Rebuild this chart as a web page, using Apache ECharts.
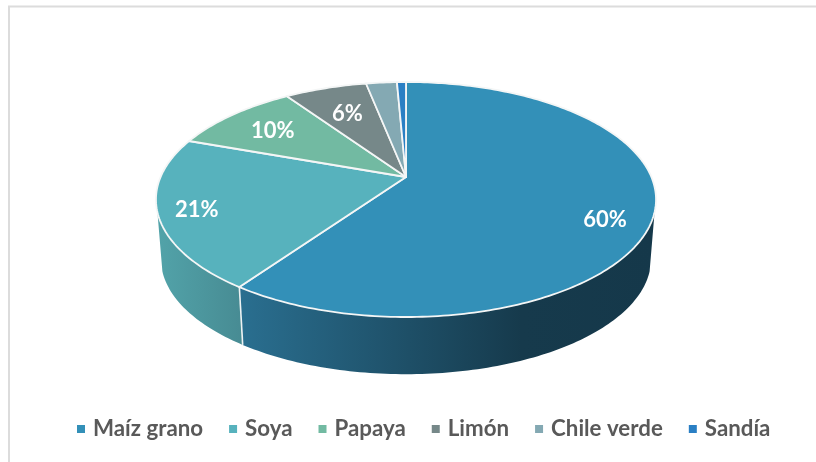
<!DOCTYPE html>
<html><head><meta charset="utf-8">
<style>html,body{margin:0;padding:0;background:#fff}#c{width:816px;height:462px}</style>
<script src="https://cdn.jsdelivr.net/npm/echarts@6/dist/echarts.min.js"></script>
</head><body><div id="c"></div>
<script>
const categories = ['Maíz grano','Soya','Papaya','Limón','Chile verde','Sandía'];
const shares = [59.7,20.8,10.0,6.4,2.4,0.7];
const shareLabels = ['60%','21%','10%','6%','',''];
const topColors = ['#3390b8','#57b2bd','#72baa2','#768889','#84a9b3','#2a7fc4'];
const sideStops = [
  [[0,'#2a6f90'],[0.68,'#163a4c'],[1,'#15384a']],
  [[0,'#52a3a9'],[1,'#478b93']],
  [[0,'#5a9682'],[1,'#5a9682']],
  [[0,'#5e6d6e'],[1,'#5e6d6e']],
  [[0,'#6a8790'],[1,'#6a8790']],
  [[0,'#22669d'],[1,'#22669d']]
];
const labelAngle = [114,252.5,308,337.5,0,0];
const labelRadius = [0.83,0.85,0.75,0.70,0,0];

const CX=406, CY=177, A=245.4, B=113.2, K=0.1915, DEPTH=60, BOTTOM_SCALE=0.98;
function project(r,deg,lower){
  const t=deg*Math.PI/180, u=r*Math.sin(t), v=r*Math.cos(t), d=1+K*v, s=lower?BOTTOM_SCALE:1;
  return [CX+s*A*u/d, CY+(lower?DEPTH:0)-s*B*v/d];
}
const total=shares.reduce((a,b)=>a+b,0);
const starts=[]; shares.reduce((acc,v,i)=>{starts[i]=acc;return acc+v/total*360;},0);

function arc(from,to,lower){
  const n=Math.max(2,Math.ceil(Math.abs(to-from))), pts=[];
  for(let j=0;j<=n;j++) pts.push(project(1,from+(to-from)*j/n,lower));
  return pts;
}
function renderSlice(i){
  return function(params,api){
    const from=starts[i], to=from+api.value(0)/total*360, children=[];
    const sFrom=Math.max(from,107), sTo=Math.min(to,253);
    if(sTo>sFrom){
      const stops=sideStops[i].map(s=>({offset:s[0],color:s[1]}));
      children.push({type:'polygon',z2:1,shape:{points:arc(sFrom,sTo,false).concat(arc(sTo,sFrom,true))},
        style:{fill:new echarts.graphic.LinearGradient(0,0,1,0,stops)}});
      if(to<=253){
        const a=project(1,to), b=project(1,to,true);
        children.push({type:'line',z2:2,shape:{x1:a[0],y1:a[1],x2:b[0],y2:b[1]},style:{stroke:'#eef2f3',lineWidth:1.6}});
      }
    }
    children.push({type:'polygon',z2:3,shape:{points:[project(0,0)].concat(arc(from,to,false))},
      style:{fill:topColors[i],stroke:'#f4f6f6',lineWidth:1.8,lineJoin:'round'}});
    if(shareLabels[i]){
      const p=project(labelRadius[i],labelAngle[i]);
      children.push({type:'text',z2:5,style:{x:p[0],y:p[1]+2,text:shareLabels[i],fill:'#fff',font:'bold 22px Lato',align:'center',verticalAlign:'middle'}});
    }
    return {type:'group',children};
  };
}
const chart=echarts.init(document.getElementById('c'),null,{renderer:'canvas'});
chart.setOption({
  animation:false,
  color:topColors,
  legend:{left:72,top:413,itemWidth:8,itemHeight:8,itemGap:26,icon:'rect',selectedMode:false,
    data:categories,
    textStyle:{color:'#595959',fontFamily:'Lato',fontWeight:'bold',fontSize:22.3,padding:[0,0,0,3]}},
  graphic:[
    {type:'polyline',silent:true,shape:{points:[[9,462],[9,6.5],[816,6.5]]},style:{fill:null,stroke:'#dcdcdc',lineWidth:2}}
  ],
  series:categories.map((name,i)=>({
    type:'custom',name,coordinateSystem:'none',
    itemStyle:{color:topColors[i]},
    renderItem:renderSlice(i),
    data:[shares[i]]
  }))
});
</script></body></html>
